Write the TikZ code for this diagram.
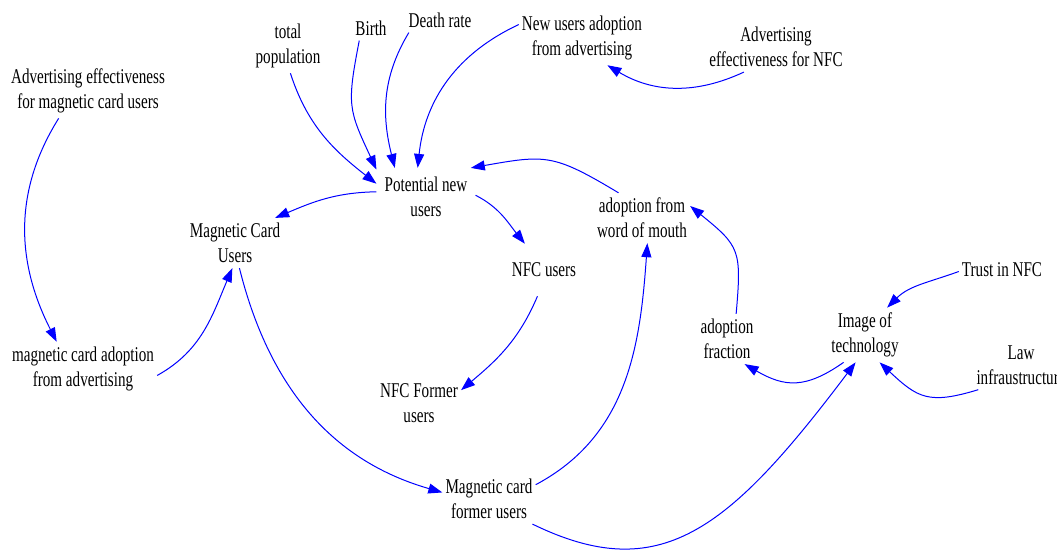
\documentclass[tikz,border=0pt]{standalone}
\usepackage{fontspec}
\setmainfont{Liberation Serif}[FakeStretch=0.72]
\usepackage{tikz}
\usetikzlibrary{arrows.meta}

\begin{document}
\begin{tikzpicture}[x=1pt, y=1pt,
	var/.style={align=center, inner xsep=3pt, inner ysep=5pt, font=\fontsize{21}{25}\selectfont},
	link/.style={blue, line width=1pt, -{Triangle[length=14pt,width=10pt]}}]
	\useasboundingbox (0,0) rectangle (1057,549);
	% variables
	\node [var] (tpop) at (288,503) {total\\population};
	\node [var] (birth) at (371,521) {Birth};
	\node [var] (death) at (440,529) {Death rate};
	\node [var] (nuadv) at (582,511) {New users adoption\\from advertising};
	\node [var] (adnfc) at (776,502) {Advertising\\effectiveness for NFC};
	\node [var] (admag) at (88,458) {Advertising effectiveness\\for magnetic card users};
	\node [var, inner xsep=8pt, inner ysep=9pt] (pnu) at (426,352) {Potential new\\users};
	\node [var] (mcu) at (235,306) {Magnetic Card\\Users};
	\node [var, inner ysep=19pt] (nfcu) at (544,279) {NFC users};
	\node [var] (wom) at (642,331) {adoption from\\word of mouth};
	\node [var] (nfcf) at (419,146) {NFC Former\\users};
	\node [var] (mcadv) at (83,180) {magnetic card adoption\\from advertising};
	\node [var] (mcf) at (489,50) {Magnetic card\\former users};
	\node [var] (afrac) at (727,210) {adoption\\fraction};
	\node [var] (img) at (865,214) {Image of\\technology};
	\node [var] (trust) at (1002,279) {Trust in NFC};
	\node [var] (law) at (1021,184) {Law\\infraustructure};
	% causal links
	\draw [link] (tpop.-85) to[out=-72, in=142] (pnu.165);
	\draw [link] (birth.-133) to[out=-101, in=115, looseness=1.3] (pnu.151);
	\draw [link] (death.-158) to[out=-121, in=104] (pnu.137);
	\draw [link] (nuadv.168) to[out=-155, in=84] (pnu.106);
	\draw [link] (adnfc.-142) to[out=-155, in=-31] (nuadv.-47);
	\draw [link] (wom.133) to[out=149, in=10, looseness=1.3] (pnu.33);
	\draw [link] (pnu.174) to[out=181, in=23] (mcu.32);
	\draw [link] (pnu.2) to[out=-27, in=129] (nfcu.126);
	\draw [link] (nfcu.-104) to[out=-113, in=40] (nfcf.17);
	\draw [link] (admag.-137) to[out=-122, in=117] (mcadv.134);
	\draw [link] (mcadv.-5) to[out=29, in=-113] (mcu.-96);
	\draw [link] (mcu.-80) to[out=-76, in=164] (mcf.172);
	\draw [link] (mcf.17) to[out=28, in=-94] (wom.-78);
	\draw [link] (afrac.70) to[out=85, in=-39, looseness=1.4] (wom.14);
	\draw [link] (img.-128) to[out=-145, in=-30, looseness=1.2] (afrac.-55);
	\draw [link] (trust.182) to[out=200, in=45] (img.51);
	\draw [link] (law.-150) to[out=197, in=-43, looseness=1.3] (img.-62);
	\draw [link] (mcf.-30) to[out=-26, in=-127, out looseness=1, in looseness=1.5] (img.-109);
\end{tikzpicture}
\end{document}
